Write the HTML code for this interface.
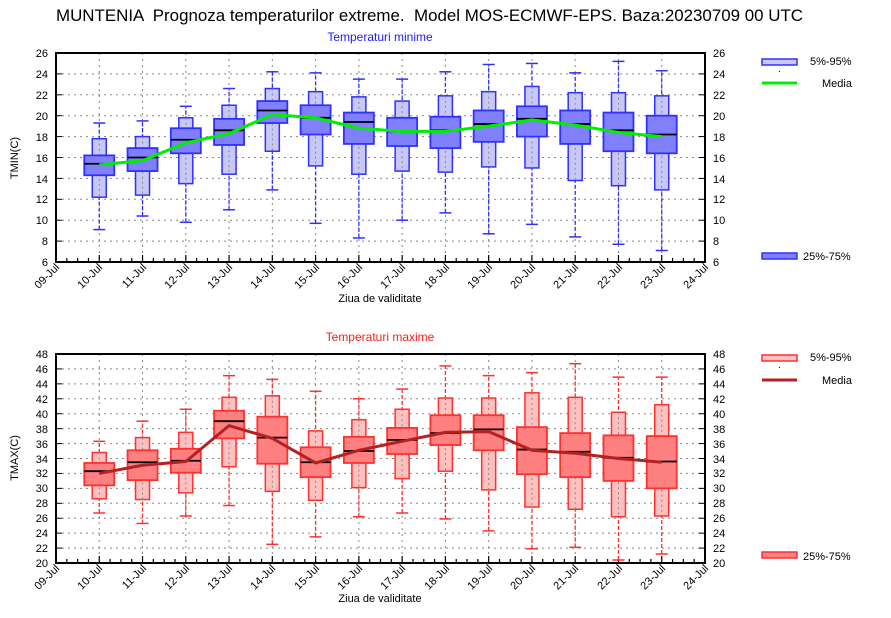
<!DOCTYPE html>
<html><head><meta charset="utf-8"><style>
body{margin:0;background:#fff}
svg{display:block;font-family:"Liberation Sans",sans-serif}
</style></head><body>
<svg id="s" width="891" height="618" xmlns="http://www.w3.org/2000/svg">
<rect width="891" height="618" fill="#fff"/>
<text x="56" y="21" font-size="16.5" style="white-space:pre" textLength="747" lengthAdjust="spacingAndGlyphs">MUNTENIA  Prognoza temperaturilor extreme.  Model MOS-ECMWF-EPS. Baza:20230709 00 UTC</text>
<text x="380" y="41" font-size="12" fill="#1a1aff" text-anchor="middle">Temperaturi minime</text>
<text x="380" y="341" font-size="12" fill="#ff1a1a" text-anchor="middle">Temperaturi maxime</text>
<text x="380" y="302" font-size="11" text-anchor="middle">Ziua de validitate</text>
<text x="380" y="602" font-size="11" text-anchor="middle">Ziua de validitate</text>
<text transform="translate(18,158) rotate(-90)" font-size="11" text-anchor="middle">TMIN(C)</text>
<text transform="translate(18,458) rotate(-90)" font-size="11" text-anchor="middle">TMAX(C)</text>
<g font-size="11" text-anchor="end">
<text x="48" y="57">26</text><text x="48" y="78">24</text><text x="48" y="99">22</text><text x="48" y="120">20</text><text x="48" y="141">18</text><text x="48" y="162">16</text><text x="48" y="183">14</text><text x="48" y="203">12</text><text x="48" y="224">10</text><text x="48" y="245">8</text><text x="48" y="266">6</text>
<text x="48" y="358">48</text><text x="48" y="373">46</text><text x="48" y="388">44</text><text x="48" y="403">42</text><text x="48" y="418">40</text><text x="48" y="433">38</text><text x="48" y="448">36</text><text x="48" y="463">34</text><text x="48" y="477">32</text><text x="48" y="492">30</text><text x="48" y="507">28</text><text x="48" y="522">26</text><text x="48" y="537">24</text><text x="48" y="552">22</text><text x="48" y="567">20</text>
</g>
<g font-size="11">
<text x="713" y="57">26</text><text x="713" y="78">24</text><text x="713" y="99">22</text><text x="713" y="120">20</text><text x="713" y="141">18</text><text x="713" y="162">16</text><text x="713" y="183">14</text><text x="713" y="203">12</text><text x="713" y="224">10</text><text x="713" y="245">8</text><text x="713" y="266">6</text>
<text x="713" y="358">48</text><text x="713" y="373">46</text><text x="713" y="388">44</text><text x="713" y="403">42</text><text x="713" y="418">40</text><text x="713" y="433">38</text><text x="713" y="448">36</text><text x="713" y="463">34</text><text x="713" y="477">32</text><text x="713" y="492">30</text><text x="713" y="507">28</text><text x="713" y="522">26</text><text x="713" y="537">24</text><text x="713" y="552">22</text><text x="713" y="567">20</text>
</g>
<g font-size="11" text-anchor="end">
<text transform="translate(60,268) rotate(-45)">09-Jul</text>
<text transform="translate(103,268) rotate(-45)">10-Jul</text>
<text transform="translate(147,268) rotate(-45)">11-Jul</text>
<text transform="translate(190,268) rotate(-45)">12-Jul</text>
<text transform="translate(233,268) rotate(-45)">13-Jul</text>
<text transform="translate(276,268) rotate(-45)">14-Jul</text>
<text transform="translate(320,268) rotate(-45)">15-Jul</text>
<text transform="translate(363,268) rotate(-45)">16-Jul</text>
<text transform="translate(406,268) rotate(-45)">17-Jul</text>
<text transform="translate(450,268) rotate(-45)">18-Jul</text>
<text transform="translate(493,268) rotate(-45)">19-Jul</text>
<text transform="translate(536,268) rotate(-45)">20-Jul</text>
<text transform="translate(579,268) rotate(-45)">21-Jul</text>
<text transform="translate(623,268) rotate(-45)">22-Jul</text>
<text transform="translate(666,268) rotate(-45)">23-Jul</text>
<text transform="translate(709,268) rotate(-45)">24-Jul</text>
<text transform="translate(60,569) rotate(-45)">09-Jul</text>
<text transform="translate(103,569) rotate(-45)">10-Jul</text>
<text transform="translate(147,569) rotate(-45)">11-Jul</text>
<text transform="translate(190,569) rotate(-45)">12-Jul</text>
<text transform="translate(233,569) rotate(-45)">13-Jul</text>
<text transform="translate(276,569) rotate(-45)">14-Jul</text>
<text transform="translate(320,569) rotate(-45)">15-Jul</text>
<text transform="translate(363,569) rotate(-45)">16-Jul</text>
<text transform="translate(406,569) rotate(-45)">17-Jul</text>
<text transform="translate(450,569) rotate(-45)">18-Jul</text>
<text transform="translate(493,569) rotate(-45)">19-Jul</text>
<text transform="translate(536,569) rotate(-45)">20-Jul</text>
<text transform="translate(579,569) rotate(-45)">21-Jul</text>
<text transform="translate(623,569) rotate(-45)">22-Jul</text>
<text transform="translate(666,569) rotate(-45)">23-Jul</text>
<text transform="translate(709,569) rotate(-45)">24-Jul</text>
</g>
<rect x="762" y="59" width="35" height="6" fill="#c8c8f8" stroke="#3030ff" stroke-width="1.5"/>
<text x="810" y="65" font-size="11">5%-95%</text>
<rect x="779" y="71" width="1" height="1" fill="#000"/>
<line x1="762" y1="83" x2="797" y2="83" stroke="#00ee00" stroke-width="3"/>
<text x="822" y="87" font-size="11">Media</text>
<rect x="762" y="253" width="35" height="6" fill="#8080ff" stroke="#3030ff" stroke-width="1.5"/>
<text x="803" y="260" font-size="11">25%-75%</text>
<rect x="762" y="355" width="35" height="6" fill="#ffc0c0" stroke="#ff3030" stroke-width="1.5"/>
<text x="810" y="361" font-size="11">5%-95%</text>
<rect x="779" y="367" width="1" height="1" fill="#000"/>
<line x1="762" y1="380" x2="797" y2="380" stroke="#b22222" stroke-width="3"/>
<text x="822" y="384" font-size="11">Media</text>
<rect x="762" y="552" width="35" height="6" fill="#ff8080" stroke="#ff3030" stroke-width="1.5"/>
<text x="803" y="560" font-size="11">25%-75%</text>
<g id="g"></g>
</svg>
<script>
var NS="http://www.w3.org/2000/svg",g=document.getElementById("g");
function el(t,a){var e=document.createElementNS(NS,t);for(var k in a)e.setAttribute(k,a[k]);g.appendChild(e);return e;}
var L=56,R=705,dw=(R-L)/15;
function X(d){return L+d*dw;}
function panel(top,bot,vmax,vmin,data,c){
 var Y=function(v){return top+(vmax-v)*(bot-top)/(vmax-vmin);};
 for(var v=vmin+2;v<vmax;v+=2){var y=Y(v);el("line",{x1:L,x2:R,y1:y,y2:y,stroke:"#888","stroke-dasharray":"2,4","stroke-width":1});}
 for(var d=1;d<15;d++){var x=X(d);el("line",{x1:x,x2:x,y1:top,y2:bot,stroke:"#888","stroke-dasharray":"2,4","stroke-width":1});}
 for(var i=0;i<=60;i++){var x=L+i*dw/4,h=(i%4==0)?7:4;el("line",{x1:x,x2:x,y1:bot,y2:bot-h,stroke:"#000","stroke-width":1.2});}
 for(var v=vmin;v<=vmax;v+=2){var y=Y(v);el("line",{x1:L,x2:L+6,y1:y,y2:y,stroke:"#000"});el("line",{x1:R,x2:R-6,y1:y,y2:y,stroke:"#000"});}
 var pts=[];
 data.forEach(function(r,i){var x=X(i+1);
  el("line",{x1:x,x2:x,y1:Y(r[0]),y2:Y(r[6]),stroke:c.s,"stroke-dasharray":"4,2","stroke-width":1.3});
  el("line",{x1:x-6,x2:x+6,y1:Y(r[0]),y2:Y(r[0]),stroke:c.s,"stroke-width":1.5});
  el("line",{x1:x-6,x2:x+6,y1:Y(r[6]),y2:Y(r[6]),stroke:c.s,"stroke-width":1.5});
  el("rect",{x:x-7,y:Y(r[5]),width:14,height:Y(r[1])-Y(r[5]),fill:c.o,stroke:c.s,"stroke-width":1.5});
  el("line",{x1:x,x2:x,y1:Y(r[5]),y2:Y(r[1]),stroke:"#888","stroke-dasharray":"2,3","stroke-width":1});
  el("rect",{x:x-15,y:Y(r[4]),width:30,height:Y(r[2])-Y(r[4]),fill:c.i,stroke:c.s,"stroke-width":1.8});
  el("line",{x1:x-15,x2:x+15,y1:Y(r[3]),y2:Y(r[3]),stroke:"#000","stroke-width":1.8});
  pts.push(x+","+Y(r[7]));});
 el("polyline",{points:pts.join(" "),fill:"none",stroke:c.m,"stroke-width":3});
 el("rect",{x:L,y:top,width:R-L,height:bot-top,fill:"none",stroke:"#000","stroke-width":2});
}
var tmin=[[9.1,12.2,14.3,15.4,16.2,17.8,19.3,15.3],[10.4,12.4,14.7,16.0,16.9,18.0,19.5,15.7],[9.8,13.5,16.4,17.7,18.8,19.8,20.9,17.4],[11.0,14.4,17.2,18.6,19.7,21.0,22.6,18.3],[12.9,16.6,19.3,20.5,21.4,22.6,24.2,20.1],[9.7,15.2,18.2,19.8,21.0,22.3,24.1,19.8],[8.3,14.4,17.3,19.4,20.3,21.8,23.5,18.8],[10.0,14.7,17.1,18.5,19.8,21.4,23.5,18.5],[10.7,14.6,16.9,18.6,19.9,21.9,24.2,18.5],[8.7,15.1,17.5,19.2,20.5,22.3,24.9,19.0],[9.6,15.0,18.0,19.7,20.9,22.8,25.0,19.6],[8.4,13.8,17.3,19.2,20.5,22.2,24.1,19.1],[7.7,13.3,16.6,18.6,20.3,22.2,25.2,18.4],[7.1,12.9,16.4,18.2,20.0,21.9,24.3,18.0]];
var tmax=[[26.7,28.6,30.4,32.3,33.4,34.8,36.3,32.0],[25.3,28.5,31.1,33.5,35.1,36.8,39.0,33.1],[26.3,29.4,32.1,33.7,35.3,37.5,40.6,33.6],[27.7,32.9,36.7,39.0,40.4,42.2,45.1,38.4],[22.5,29.6,33.3,36.8,39.6,42.4,44.6,36.7],[23.5,28.4,31.5,33.5,35.5,37.7,43.0,33.4],[26.2,30.1,33.4,35.0,36.9,39.2,42.0,35.1],[26.7,31.3,34.6,36.5,38.1,40.6,43.3,36.3],[25.9,32.3,35.8,37.4,39.8,42.1,46.4,37.5],[24.3,29.8,35.1,37.9,39.8,42.1,45.1,37.6],[21.9,27.5,31.9,35.2,38.2,42.8,45.5,35.1],[22.1,27.2,31.5,34.9,37.4,42.2,46.7,34.7],[20.4,26.2,31.0,34.1,37.1,40.2,44.9,34.0],[21.2,26.3,30.0,33.6,37.0,41.2,44.9,33.5]];
panel(53,262,26,6,tmin,{s:"#3030ff",o:"#c8c8f8",i:"#8080ff",m:"#00ee00"});
panel(354,563,48,20,tmax,{s:"#ff3030",o:"#ffc0c0",i:"#ff8080",m:"#b22222"});
</script>
</body></html>
